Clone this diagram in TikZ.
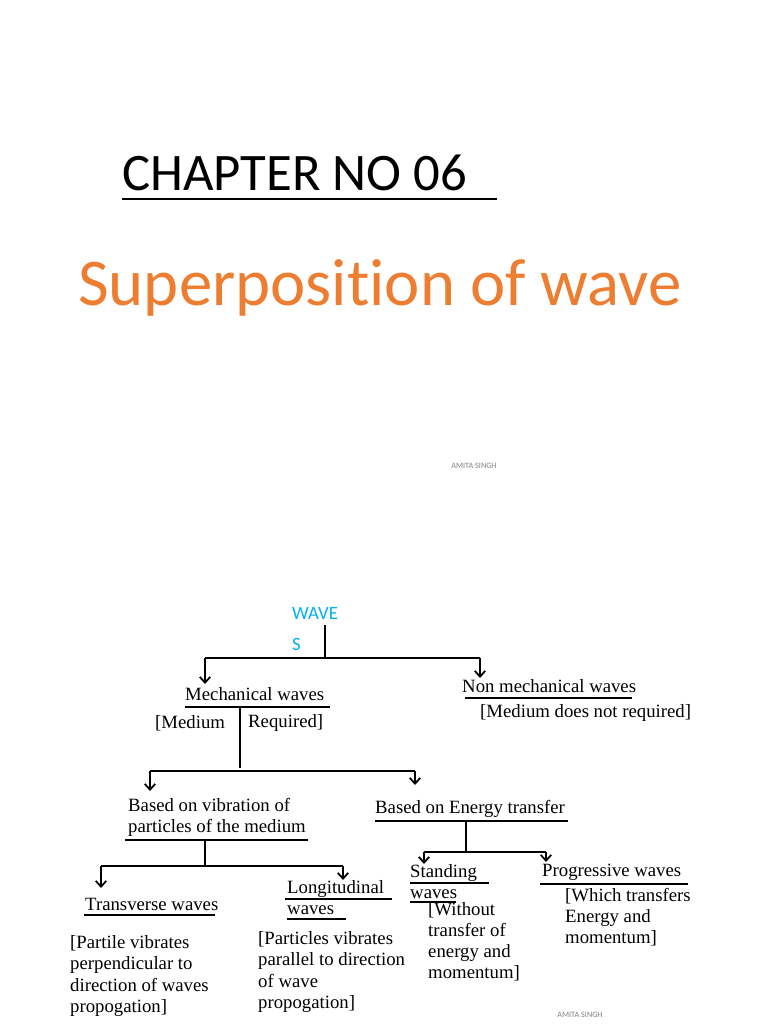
\documentclass[tikz,border=0pt]{standalone}
\usepackage{fontspec}
\setmainfont{Liberation Serif}
\newfontfamily\calib[Ligatures=NoCommon]{Carlito}
\usetikzlibrary{arrows.meta}
\definecolor{titleorange}{RGB}{237,125,49}
\definecolor{wavecyan}{RGB}{0,176,240}
\tikzset{
  lbl/.style={anchor=west,inner sep=0pt,font=\fontsize{16}{18}\selectfont,align=left},
  ul/.style={line width=1.3pt},
  br/.style={line width=1.5pt},
  dn/.style={line width=1.5pt,-{Straight Barb[length=5pt,width=9pt]}},
  sign/.style={font=\calib\fontsize{7}{8}\selectfont,text=gray}
}
\begin{document}
\begin{tikzpicture}[x=0.03cm,y=-0.03cm]
  \useasboundingbox (0,0) rectangle (768,1024);
  % titel
  \node[anchor=base west,inner sep=0pt,font=\calib\fontsize{45}{50}\selectfont] (chap) at (122,190) {CHAPTER NO 06};
  \draw[line width=1.5pt] (122,199) -- (497,199);
  \node[anchor=base west,inner sep=0pt,font=\calib\fontsize{57}{62}\selectfont,text=titleorange] (sup) at (78,305) {Superposition of wave};
  \node[sign] (sig1) at (474,466) {AMITA SINGH};
  % boom
  \node[anchor=west,inner sep=0pt,font=\calib\fontsize{16}{28}\selectfont,text=wavecyan,align=left] (waves) at (292,629) {WAVE\\[-2pt]S};
  \coordinate (w0) at (325,625);
  \coordinate (w1) at (325,658);
  \draw[br] (w0) -- (w1);
  \draw[br] (205,658) -- (480,658);
  \draw[dn] (205,658) -- (205,684);
  \draw[dn] (480,658) -- (480,678);
  \node[lbl] (mech) at (185,694) {Mechanical waves};
  \draw[ul] (185,707) -- (330,707);
  \node[lbl] (med1) at (155,723) {[Medium};
  \node[lbl] (med2) at (248,723) {Required]};
  \node[lbl] (nonmech) at (462,686) {Non mechanical waves};
  \draw[ul] (465,698) -- (632,698);
  \node[lbl] (nomed) at (480,713) {[Medium does not required]};
  \draw[br] (240,707) -- (240,768);
  \draw[br] (150,771) -- (415,771);
  \draw[dn] (150,771) -- (150,791);
  \draw[dn] (415,771) -- (415,785);
  \node[lbl] (vib) at (128,817) {Based on vibration of\\particles of the medium};
  \draw[ul] (125,840) -- (308,840);
  \node[lbl] (energy) at (375,809) {Based on Energy transfer};
  \draw[ul] (375,821) -- (568,821);
  \draw[br] (205,840) -- (205,866);
  \draw[br] (101,866) -- (343,866);
  \draw[dn] (101,866) -- (101,888);
  \draw[dn] (343,866) -- (343,880);
  \node[lbl] (trans) at (85,904) {Transverse waves};
  \draw[ul] (84,915) -- (215,915);
  \node[lbl] (longi) at (287,898) {Longitudinal\\waves};
  \draw[ul] (285,899) -- (392,899);
  \draw[ul] (287,919) -- (346,919);
  \node[lbl] (transtxt) at (70,976) {[Partile vibrates\\perpendicular to\\direction of waves\\propogation]};
  \node[lbl] (longtxt) at (258,972) {[Particles vibrates\\parallel to direction\\of wave\\propogation]};
  \draw[br] (466,821) -- (466,852);
  \draw[br] (424,852) -- (546,852);
  \draw[dn] (424,852) -- (424,864);
  \draw[dn] (546,852) -- (546,862);
  \node[lbl] (stand) at (410,882) {Standing\\waves};
  \draw[ul] (410,883) -- (489,883);
  \draw[ul] (410,902) -- (456,902);
  \node[lbl] (standtxt) at (428,942) {[Without\\transfer of\\energy and\\momentum]};
  \node[lbl] (prog) at (542,872) {Progressive waves};
  \draw[ul] (540,884) -- (688,884);
  \node[lbl] (progtxt) at (565,917) {[Which transfers\\Energy and\\momentum]};
  \node[sign] (sig2) at (580,1015) {AMITA SINGH};
\end{tikzpicture}
\end{document}
